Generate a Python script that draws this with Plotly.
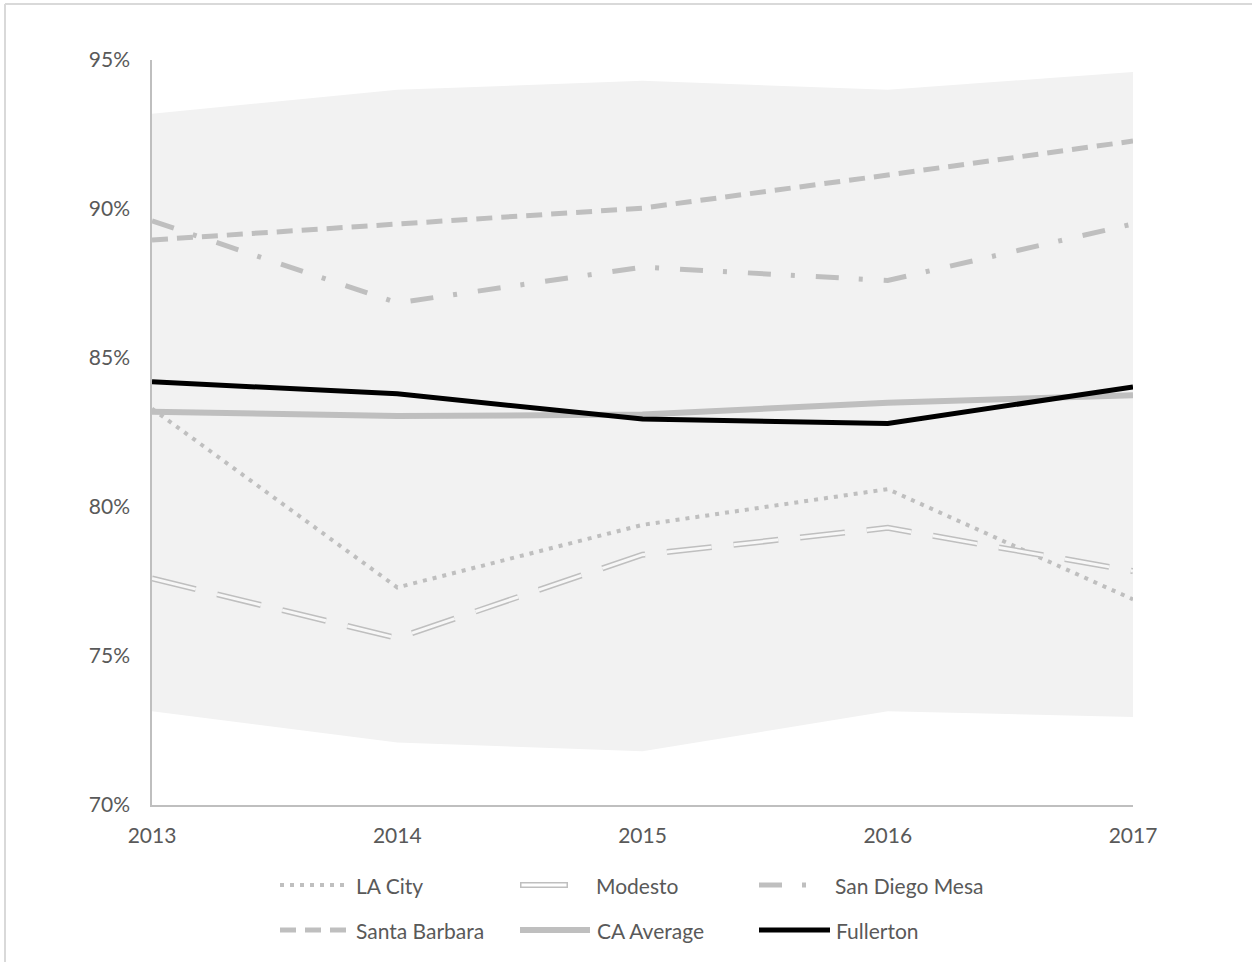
import plotly.graph_objects as go

years = [2013, 2014, 2015, 2016, 2017]
band_low = [73.15, 72.1, 71.8, 73.15, 72.95]
band_high = [93.2, 94.0, 94.3, 94.0, 94.6]
la_city = [83.3, 77.3, 79.4, 80.6, 76.9]
modesto = [77.6, 75.6, 78.4, 79.3, 77.85]
san_diego_mesa = [89.6, 86.85, 88.05, 87.6, 89.5]
santa_barbara = [88.96, 89.5, 90.03, 91.14, 92.28]
ca_average = [83.2, 83.05, 83.1, 83.5, 83.75]
fullerton = [84.2, 83.8, 82.95, 82.8, 84.03]
y_ticks = [70, 75, 80, 85, 90, 95]
y_tick_labels = ["70%", "75%", "80%", "85%", "90%", "95%"]
legend_names = ["LA City", "Modesto", "San Diego Mesa", "Santa Barbara", "CA Average", "Fullerton"]

GRAY = "#bfbfbf"
TXT = "#595959"
FONT = "Lato"
FS = 21

fig = go.Figure()
fig.add_trace(go.Scatter(x=years, y=band_low, mode="lines", line=dict(width=0), showlegend=False, hoverinfo="skip"))
fig.add_trace(go.Scatter(x=years, y=band_high, mode="lines", line=dict(width=0), fill="tonexty",
                         fillcolor="#f2f2f2", showlegend=False, hoverinfo="skip"))

fig.add_trace(go.Scatter(x=years, y=la_city, mode="lines", name="LA City",
                         line=dict(color=GRAY, width=4, dash="4px,6px"), showlegend=False))
fig.add_trace(go.Scatter(x=years, y=modesto, mode="lines", name="Modesto",
                         line=dict(color=GRAY, width=6, dash="45px,22px"), showlegend=False))
fig.add_trace(go.Scatter(x=years, y=modesto, mode="lines", name="Modesto",
                         line=dict(color="#f7f7f7", width=3, dash="45px,22px"), showlegend=False))
fig.add_trace(go.Scatter(x=years, y=san_diego_mesa, mode="lines", name="San Diego Mesa",
                         line=dict(color=GRAY, width=5, dash="23px,20px,4px,21px"), showlegend=False))
fig.add_trace(go.Scatter(x=years, y=santa_barbara, mode="lines", name="Santa Barbara",
                         line=dict(color=GRAY, width=5, dash="16px,9px"), showlegend=False))
fig.add_trace(go.Scatter(x=years, y=ca_average, mode="lines", name="CA Average",
                         line=dict(color=GRAY, width=6), showlegend=False))
fig.add_trace(go.Scatter(x=years, y=fullerton, mode="lines", name="Fullerton",
                         line=dict(color="#000000", width=5), showlegend=False))

W, H = 1252, 962
L, R, T, B = 152, 1133, 60, 805

def px(x):
    return (x - L) / (R - L)

def py(y):
    return (B - y) / (B - T)

shapes = []
annotations = []
# outer border (top/left)
shapes.append(dict(type="line", xref="paper", yref="paper", x0=px(5), x1=px(1252), y0=py(4), y1=py(4),
                   line=dict(color="#d9d9d9", width=2)))
shapes.append(dict(type="line", xref="paper", yref="paper", x0=px(5), x1=px(5), y0=py(4), y1=py(962),
                   line=dict(color="#d9d9d9", width=2)))

# manual legend
styles = [
    dict(color=GRAY, width=4, dash="4px,6px"),
    None,
    dict(color=GRAY, width=5, dash="23px,20px,4px,21px"),
    dict(color=GRAY, width=5, dash="16px,9px"),
    dict(color=GRAY, width=6),
    dict(color="#000000", width=5),
]
sym = [(280, 350, 356), (520, 568, 596), (759, 810, 835), (280, 350, 356), (520, 590, 597), (759, 830, 836)]
rows = [885, 885, 885, 930, 930, 930]
for i, name in enumerate(legend_names):
    x0, x1, tx = sym[i]
    yy = rows[i]
    if styles[i] is None:
        shapes.append(dict(type="line", xref="paper", yref="paper", x0=px(x0), x1=px(x1), y0=py(yy), y1=py(yy),
                           line=dict(color=GRAY, width=6)))
        shapes.append(dict(type="line", xref="paper", yref="paper", x0=px(x0 + 1.5), x1=px(x1 - 1.5), y0=py(yy), y1=py(yy),
                           line=dict(color="#ffffff", width=3)))
    else:
        shapes.append(dict(type="line", xref="paper", yref="paper", x0=px(x0), x1=px(x1), y0=py(yy), y1=py(yy),
                           line=styles[i]))
    annotations.append(dict(xref="paper", yref="paper", x=px(tx), y=py(yy), text=name, showarrow=False,
                            xanchor="left", yanchor="middle", xshift=-2, font=dict(family=FONT, size=FS, color=TXT)))

fig.update_layout(
    width=W, height=H,
    margin=dict(l=L, r=W - R, t=T, b=H - B, pad=0),
    paper_bgcolor="white", plot_bgcolor="white",
    shapes=shapes, annotations=annotations,
    xaxis=dict(range=[2013, 2017], tickvals=years, ticktext=[str(y) for y in years], showgrid=False,
               zeroline=False, showline=True, linecolor="#bfbfbf", linewidth=1.5, ticks="outside", ticklen=11,
               tickcolor="rgba(0,0,0,0)", tickfont=dict(family=FONT, size=FS, color=TXT)),
    yaxis=dict(range=[70, 95], tickvals=y_ticks, ticktext=y_tick_labels, showgrid=False, zeroline=False,
               showline=True, linecolor="#bfbfbf", linewidth=1.5, ticks="outside", ticklen=16, tickcolor="rgba(0,0,0,0)",
               tickfont=dict(family=FONT, size=FS, color=TXT)),
    showlegend=False,
)

fig.write_html("out.html", config={"displayModeBar": False},
               post_script="document.body.style.margin='0';document.body.style.overflow='hidden';")
